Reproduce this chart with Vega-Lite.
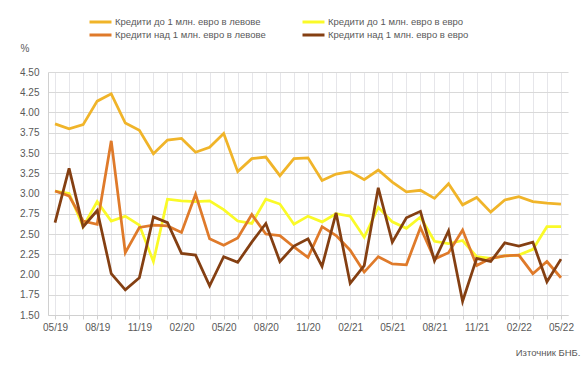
{
  "$schema": "https://vega.github.io/schema/vega-lite/v6.json",
  "autosize": {"type": "none"},
  "width": 520,
  "height": 243,
  "padding": {"top": 72, "left": 48, "right": 15, "bottom": 60},
  "background": "white",
  "config": {
    "view": {"stroke": null},
    "font": "Liberation Sans"
  },
  "title": {
    "text": "Източник БНБ.",
    "orient": "bottom",
    "anchor": "end",
    "offset": 16,
    "dx": 7,
    "fontSize": 9.5,
    "fontWeight": "normal",
    "color": "#595959"
  },
  "data": {
    "values": [
      {"m":"05/19","s":"A","v":3.86},{"m":"06/19","s":"A","v":3.80},{"m":"07/19","s":"A","v":3.85},{"m":"08/19","s":"A","v":4.14},{"m":"09/19","s":"A","v":4.23},{"m":"10/19","s":"A","v":3.87},{"m":"11/19","s":"A","v":3.78},{"m":"12/19","s":"A","v":3.49},{"m":"01/20","s":"A","v":3.66},{"m":"02/20","s":"A","v":3.68},{"m":"03/20","s":"A","v":3.51},{"m":"04/20","s":"A","v":3.57},{"m":"05/20","s":"A","v":3.74},{"m":"06/20","s":"A","v":3.27},{"m":"07/20","s":"A","v":3.43},{"m":"08/20","s":"A","v":3.45},{"m":"09/20","s":"A","v":3.22},{"m":"10/20","s":"A","v":3.43},{"m":"11/20","s":"A","v":3.44},{"m":"12/20","s":"A","v":3.16},{"m":"01/21","s":"A","v":3.24},{"m":"02/21","s":"A","v":3.27},{"m":"03/21","s":"A","v":3.17},{"m":"04/21","s":"A","v":3.29},{"m":"05/21","s":"A","v":3.14},{"m":"06/21","s":"A","v":3.02},{"m":"07/21","s":"A","v":3.04},{"m":"08/21","s":"A","v":2.94},{"m":"09/21","s":"A","v":3.12},{"m":"10/21","s":"A","v":2.86},{"m":"11/21","s":"A","v":2.95},{"m":"12/21","s":"A","v":2.77},{"m":"01/22","s":"A","v":2.92},{"m":"02/22","s":"A","v":2.96},{"m":"03/22","s":"A","v":2.90},{"m":"04/22","s":"A","v":2.88},{"m":"05/22","s":"A","v":2.87},

      {"m":"05/19","s":"B","v":3.03},{"m":"06/19","s":"B","v":3.00},{"m":"07/19","s":"B","v":2.59},{"m":"08/19","s":"B","v":2.90},{"m":"09/19","s":"B","v":2.66},{"m":"10/19","s":"B","v":2.72},{"m":"11/19","s":"B","v":2.61},{"m":"12/19","s":"B","v":2.16},{"m":"01/20","s":"B","v":2.93},{"m":"02/20","s":"B","v":2.91},{"m":"03/20","s":"B","v":2.90},{"m":"04/20","s":"B","v":2.91},{"m":"05/20","s":"B","v":2.80},{"m":"06/20","s":"B","v":2.66},{"m":"07/20","s":"B","v":2.63},{"m":"08/20","s":"B","v":2.93},{"m":"09/20","s":"B","v":2.87},{"m":"10/20","s":"B","v":2.62},{"m":"11/20","s":"B","v":2.72},{"m":"12/20","s":"B","v":2.65},{"m":"01/21","s":"B","v":2.75},{"m":"02/21","s":"B","v":2.72},{"m":"03/21","s":"B","v":2.46},{"m":"04/21","s":"B","v":2.83},{"m":"05/21","s":"B","v":2.65},{"m":"06/21","s":"B","v":2.57},{"m":"07/21","s":"B","v":2.71},{"m":"08/21","s":"B","v":2.41},{"m":"09/21","s":"B","v":2.38},{"m":"10/21","s":"B","v":2.42},{"m":"11/21","s":"B","v":2.22},{"m":"12/21","s":"B","v":2.20},{"m":"01/22","s":"B","v":2.23},{"m":"02/22","s":"B","v":2.24},{"m":"03/22","s":"B","v":2.31},{"m":"04/22","s":"B","v":2.59},{"m":"05/22","s":"B","v":2.59},

      {"m":"05/19","s":"C","v":3.03},{"m":"06/19","s":"C","v":2.97},{"m":"07/19","s":"C","v":2.66},{"m":"08/19","s":"C","v":2.62},{"m":"09/19","s":"C","v":3.65},{"m":"10/19","s":"C","v":2.27},{"m":"11/19","s":"C","v":2.58},{"m":"12/19","s":"C","v":2.61},{"m":"01/20","s":"C","v":2.60},{"m":"02/20","s":"C","v":2.52},{"m":"03/20","s":"C","v":2.99},{"m":"04/20","s":"C","v":2.44},{"m":"05/20","s":"C","v":2.36},{"m":"06/20","s":"C","v":2.45},{"m":"07/20","s":"C","v":2.74},{"m":"08/20","s":"C","v":2.50},{"m":"09/20","s":"C","v":2.48},{"m":"10/20","s":"C","v":2.34},{"m":"11/20","s":"C","v":2.21},{"m":"12/20","s":"C","v":2.59},{"m":"01/21","s":"C","v":2.48},{"m":"02/21","s":"C","v":2.30},{"m":"03/21","s":"C","v":2.03},{"m":"04/21","s":"C","v":2.22},{"m":"05/21","s":"C","v":2.13},{"m":"06/21","s":"C","v":2.12},{"m":"07/21","s":"C","v":2.58},{"m":"08/21","s":"C","v":2.19},{"m":"09/21","s":"C","v":2.27},{"m":"10/21","s":"C","v":2.55},{"m":"11/21","s":"C","v":2.11},{"m":"12/21","s":"C","v":2.20},{"m":"01/22","s":"C","v":2.23},{"m":"02/22","s":"C","v":2.24},{"m":"03/22","s":"C","v":2.01},{"m":"04/22","s":"C","v":2.16},{"m":"05/22","s":"C","v":1.96},

      {"m":"05/19","s":"D","v":2.64},{"m":"06/19","s":"D","v":3.31},{"m":"07/19","s":"D","v":2.59},{"m":"08/19","s":"D","v":2.79},{"m":"09/19","s":"D","v":2.01},{"m":"10/19","s":"D","v":1.81},{"m":"11/19","s":"D","v":1.96},{"m":"12/19","s":"D","v":2.71},{"m":"01/20","s":"D","v":2.64},{"m":"02/20","s":"D","v":2.26},{"m":"03/20","s":"D","v":2.24},{"m":"04/20","s":"D","v":1.86},{"m":"05/20","s":"D","v":2.22},{"m":"06/20","s":"D","v":2.15},{"m":"07/20","s":"D","v":2.40},{"m":"08/20","s":"D","v":2.63},{"m":"09/20","s":"D","v":2.16},{"m":"10/20","s":"D","v":2.35},{"m":"11/20","s":"D","v":2.44},{"m":"12/20","s":"D","v":2.10},{"m":"01/21","s":"D","v":2.76},{"m":"02/21","s":"D","v":1.89},{"m":"03/21","s":"D","v":2.11},{"m":"04/21","s":"D","v":3.07},{"m":"05/21","s":"D","v":2.40},{"m":"06/21","s":"D","v":2.70},{"m":"07/21","s":"D","v":2.78},{"m":"08/21","s":"D","v":2.17},{"m":"09/21","s":"D","v":2.54},{"m":"10/21","s":"D","v":1.67},{"m":"11/21","s":"D","v":2.20},{"m":"12/21","s":"D","v":2.16},{"m":"01/22","s":"D","v":2.39},{"m":"02/22","s":"D","v":2.35},{"m":"03/22","s":"D","v":2.40},{"m":"04/22","s":"D","v":1.91},{"m":"05/22","s":"D","v":2.19}
    ]
  },
  "mark": {"type": "line", "strokeWidth": 2.75, "strokeJoin": "miter", "strokeMiterLimit": 4},
  "encoding": {
    "x": {
      "field": "m",
      "type": "ordinal",
      "sort": null,
      "scale": {"type": "point", "padding": 0.5},
      "axis": {
        "title": null,
        "labelAngle": 0,
        "labelExpr": "indexof(['05/19','08/19','11/19','02/20','05/20','08/20','11/20','02/21','05/21','08/21','11/21','02/22','05/22'], datum.value) >= 0 ? datum.value : ''",
        "labelFontSize": 10,
        "labelColor": "#595959",
        "labelPadding": 3,
        "labelOverlap": false,
        "grid": true,
        "gridColor": "#e6e6ea",
        "gridWidth": 1,
        "domainColor": "#d0d0d0",
        "tickColor": "#d0d0d0",
        "tickSize": 4
      }
    },
    "y": {
      "field": "v",
      "type": "quantitative",
      "scale": {"domain": [1.5, 4.5], "nice": false, "zero": false},
      "axis": {
        "values": [1.5,1.75,2,2.25,2.5,2.75,3,3.25,3.5,3.75,4,4.25,4.5],
        "format": ".2f",
        "labelFontSize": 10,
        "labelColor": "#595959",
        "labelPadding": 9,
        "ticks": false,
        "domainColor": "#d0d0d0",
        "gridColor": "#d9d9d9",
        "title": "%",
        "titleAngle": 0,
        "titleX": -28,
        "titleY": -24,
        "titleAlign": "left",
        "titleBaseline": "middle",
        "titleFontWeight": "normal",
        "titleFontSize": 10,
        "titleColor": "#595959"
      }
    },
    "color": {
      "field": "s",
      "type": "nominal",
      "scale": {
        "domain": ["A", "B", "C", "D"],
        "range": ["#F0B429", "#FAFA28", "#DF7A2A", "#843F12"]
      },
      "legend": {
        "title": null,
        "orient": "none",
        "legendX": 45.5,
        "legendY": -57,
        "direction": "horizontal",
        "columns": 2,
        "columnPadding": 30,
        "rowPadding": -5,
        "symbolType": "M-2,0H2",
        "symbolSize": 121,
        "symbolStrokeWidth": 3,
        "symbolFillColor": "transparent",
        "labelOffset": 7.5,
        "labelFontSize": 9.5,
        "labelColor": "#595959",
        "labelLimit": 300,
        "labelExpr": "{'A':'Кредити до 1 млн. евро в левове','B':'Кредити до 1 млн. евро в евро','C':'Кредити над 1 млн. евро в левове','D':'Кредити над 1 млн. евро в евро'}[datum.value]"
      }
    }
  }
}
